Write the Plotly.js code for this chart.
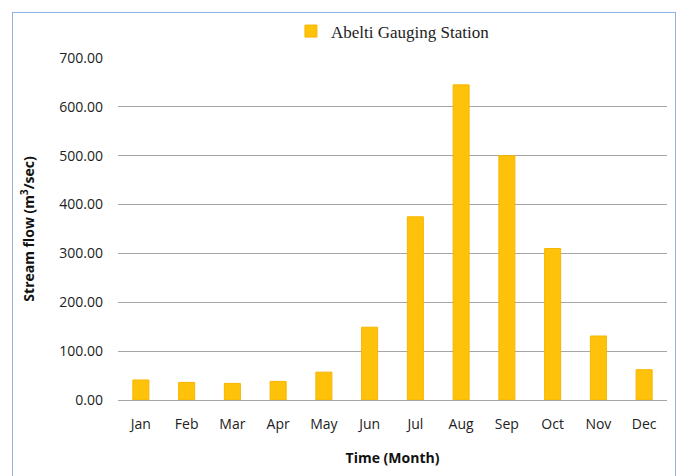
<!DOCTYPE html>
<html><head><meta charset="utf-8">
<script src="https://cdn.plot.ly/plotly-3.0.1.min.js"></script>
<style>
html,body{margin:0;padding:0;background:#fff;}
#wrap{position:relative;width:688px;height:476px;overflow:hidden;}
#chart{position:absolute;left:0;top:0;width:688px;height:476px;}
#frame{position:absolute;left:12px;top:12px;width:662px;height:480px;border:1.5px solid #8fb4e3;pointer-events:none;}
</style>
</head><body>
<div id="wrap"><div id="chart"></div><div id="frame"></div></div>
<script>
const months = ["Jan","Feb","Mar","Apr","May","Jun","Jul","Aug","Sep","Oct","Nov","Dec"];
const streamFlow = [41, 36, 34, 38, 57, 149, 375, 645, 500, 310, 131, 62];
const seriesName = "Abelti Gauging Station";
const yTicks = [0,100,200,300,400,500,600,700];
const yTickText = yTicks.map(v => v.toFixed(2));

const trace = {
  type: 'bar', x: months, y: streamFlow, name: seriesName,
  marker: {color: '#FFC20A', line: {color: '#F7B500', width: 1}},
  showlegend: true
};
const layout = {
  width: 688, height: 476,
  margin: {l: 118, r: 21, t: 58, b: 76},
  paper_bgcolor: '#fff', plot_bgcolor: '#fff',
  bargap: 0.65,
  font: {family: 'Open Sans, Liberation Sans, sans-serif', color: '#222', size: 14},
  xaxis: {
    type: 'category', showgrid: false, zeroline: false,
    showline: false, ticks: '', ticklabelstandoff: 14,
    tickfont: {size: 14, color: '#222'},
    title: {text: 'Time (Month)', font: {size: 14, color: '#111', weight: 'bold'}, standoff: 21}
  },
  yaxis: {
    range: [0, 700], tickvals: yTicks, ticktext: yTickText,
    showgrid: true, gridcolor: '#a6a6a6', gridwidth: 1,
    zeroline: true, zerolinecolor: '#a6a6a6', zerolinewidth: 1,
    showline: false, ticks: '', ticklabelstandoff: 14,
    tickfont: {size: 14, color: '#222'},
    title: {text: 'Stream flow (m<sup>3</sup>/sec)', font: {size: 14, color: '#111', weight: 'bold'}, standoff: 21}
  },
  legend: {
    orientation: 'h', x: 0.315, y: 1.13, xanchor: 'left', yanchor: 'top',
    font: {family: 'Liberation Serif, Times New Roman, serif', size: 17, color: '#222'},
    bgcolor: 'rgba(0,0,0,0)'
  }
};
Plotly.newPlot('chart', [trace], layout, {displayModeBar: false, staticPlot: true});
</script>
</body></html>
